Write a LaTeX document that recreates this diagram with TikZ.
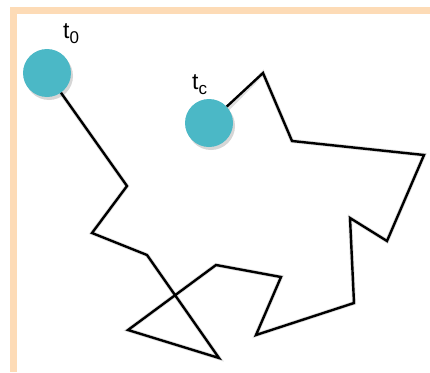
\documentclass[tikz,border=0pt]{standalone}
\usepackage{fontspec}
\setmainfont{Liberation Sans}
\begin{document}
\begin{tikzpicture}[x=1pt,y=-1pt,
  dot/.style={circle,fill=dotcol,minimum size=48pt,inner sep=0pt},
  dotshadow/.style={circle,fill=black!35,opacity=0.45,minimum size=48pt,inner sep=0pt},
  walk/.style={line width=2.4pt,black,line join=miter},
  walkshadow/.style={line width=4pt,black!25,opacity=0.5,line join=miter},
  lbl/.style={font=\fontsize{23}{26}\selectfont,inner sep=0pt}]
\definecolor{dotcol}{HTML}{4BB8C6}
\definecolor{framecol}{HTML}{FDDBB6}
\useasboundingbox (0,0) rectangle (430,372);
\fill[white] (0,0) rectangle (430,372);
\fill[framecol] (10,7) rectangle (430,14);
\fill[framecol] (10,7) rectangle (17,372);
% points
\coordinate (p1) at (127,186);
\coordinate (p2) at (92,233);
\coordinate (p3) at (147,255);
\coordinate (p4) at (219,358);
\coordinate (p5) at (128,330);
\coordinate (p6) at (216,265);
\coordinate (p7) at (281,277);
\coordinate (p8) at (256,335);
\coordinate (p9) at (354,303);
\coordinate (p10) at (350,218);
\coordinate (p11) at (387,241);
\coordinate (p12) at (424,155);
\coordinate (p13) at (292,141);
\coordinate (p14) at (263,73);
% shadows
\begin{scope}[shift={(2,3)}]
\draw[walkshadow] (47,73) -- (p1) -- (p2) -- (p3) -- (p4) -- (p5) -- (p6) -- (p7) -- (p8) -- (p9) -- (p10) -- (p11) -- (p12) -- (p13) -- (p14) -- (209,123);
\node[dotshadow] at (47,73) {};
\node[dotshadow] at (209,123) {};
\end{scope}
\node[dot] (t0) at (47,73) {};
\node[dot] (tc) at (209,123) {};
\draw[walk] (t0) -- (p1) -- (p2) -- (p3) -- (p4) -- (p5) -- (p6) -- (p7) -- (p8) -- (p9) -- (p10) -- (p11) -- (p12) -- (p13) -- (p14) -- (tc);
\node[lbl,anchor=base west] (l0) at (63,38) {t\raisebox{-0.25em}{\fontsize{17}{17}\selectfont 0}};
\node[lbl,anchor=base west] (lc) at (192,89) {t\raisebox{-0.25em}{\fontsize{17}{17}\selectfont c}};
\end{tikzpicture}
\end{document}
